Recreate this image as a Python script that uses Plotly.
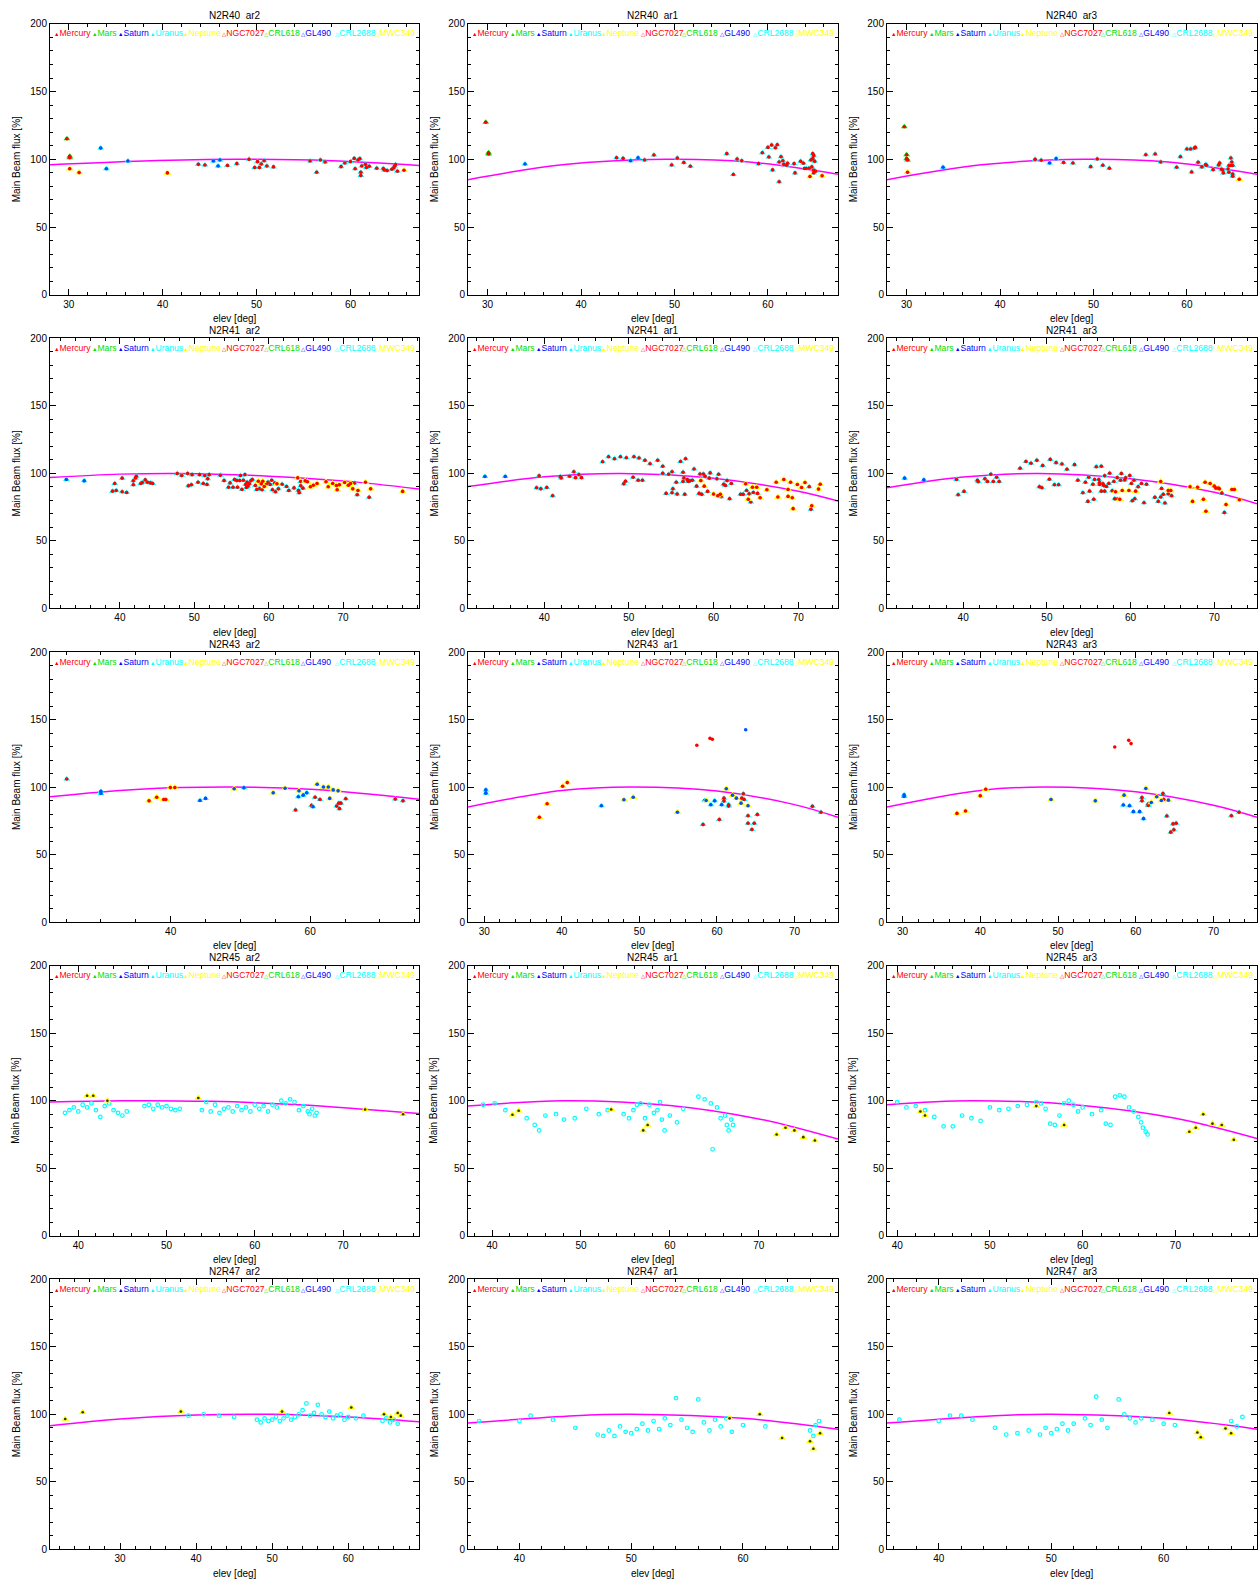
import plotly.graph_objects as go

# ---------------- layout of the page (pixels) ----------------
W, H = 1259, 1592
COL_PX = [(50, 419), (468, 838), (887, 1257)]
ROW_PX = [(18, 291), (335, 607), (651, 923), (967, 1239), (1283, 1555)]

RECEIVERS = ["N2R40", "N2R41", "N2R43", "N2R45", "N2R47"]
ARRAYS = ["ar2", "ar1", "ar3"]

X_RANGES = [
    [(28.0, 67.3), (27.9, 67.5), (27.9, 67.5)],
    [(30.6, 80.2), (31.0, 74.7), (30.9, 75.1)],
    [(22.7, 75.6), (27.9, 75.6), (28.0, 75.6)],
    [(36.8, 78.6), (37.3, 78.9), (38.9, 78.8)],
    [(20.8, 69.3), (35.4, 68.5), (35.4, 68.3)],
]
X_TICKS = [
    [[30, 40, 50, 60], [30, 40, 50, 60], [30, 40, 50, 60]],
    [[40, 50, 60, 70], [40, 50, 60, 70], [40, 50, 60, 70]],
    [[40, 60], [30, 40, 50, 60, 70], [30, 40, 50, 60, 70]],
    [[40, 50, 60, 70], [40, 50, 60, 70], [40, 50, 60, 70]],
    [[30, 40, 50, 60], [40, 50, 60], [40, 50, 60]],
]
X_MINOR = [[2, 2, 2], [2, 2, 2], [5, 2, 2], [2, 2, 2], [2, 2, 2]]

LEGEND_MARKS = ["\u25b2", "\u25b2", "\u25b2", "\u25b2", "\u25b2",
                "\u25b3", "\u25b3", "\u25b3", "\u25b3", "\u25b3"]
LEGEND_NAMES = ["Mercury", "Mars", "Saturn", "Uranus", "Neptune",
                "NGC7027", "CRL618", "GL490", "CRL2688", "MWC349"]
LEGEND_COLORS = ["#ff0000", "#00e000", "#0000ff", "#00ffff", "#ffff00",
                 "#ff0000", "#00e000", "#0000ff", "#00ffff", "#ffff00"]
LEGEND_POS = [0.005, 0.108, 0.179, 0.265, 0.354, 0.461, 0.574, 0.676, 0.766, 0.876]

# ---------------- data: (elev [deg], main beam flux [%], marker kind) ----------------
# kinds: rc red on cyan (default), ry red on yellow, rg red on green, bc blue on cyan,
#        by blue on yellow, r red, b blue, c cyan ring, yk yellow with dark dot
PTS_N2R40_AR2 = [
    (29.8, 115.2, "rg"), (30.1, 102.2, "rg"), (30.1, 101.2, "rg"), (30.1, 93.0, "ry"), (31.1, 90.2, "ry"),
    (33.4, 108.3, "bc"), (34.0, 93.0, "bc"), (36.3, 98.8, "bc"), (40.5, 90.0, "ry"),
    (43.8, 96.3), (44.5, 95.8), (45.4, 98.8, "bc"), (45.9, 95.1, "bc"), (46.1, 99.5, "bc"),
    (46.9, 95.4), (47.9, 96.8), (49.2, 100.0), (49.8, 93.9), (50.1, 98.3), (50.3, 93.9), (50.5, 96.6),
    (50.8, 99.0), (51.1, 95.1), (51.8, 94.4), (55.7, 98.8), (56.4, 90.5), (56.8, 99.5), (57.3, 98.0),
    (59.0, 94.6), (59.4, 97.3), (60.0, 98.3), (60.4, 100.7), (60.5, 93.0), (60.8, 99.5), (61.0, 100.5),
    (61.1, 90.5), (61.1, 88.0), (61.2, 95.1), (61.6, 96.3), (61.7, 93.9), (62.0, 94.9), (62.8, 93.4),
    (63.5, 93.2), (63.6, 92.2), (63.9, 91.7), (64.4, 92.7), (64.6, 93.6), (64.7, 94.9), (64.8, 96.1),
    (65.0, 91.2), (65.7, 91.9, "ry"),
]
PTS_N2R40_AR1 = [
    (29.8, 127.4, "rg"), (30.1, 104.9, "rg"), (30.1, 104.0, "rg"), (34.0, 96.6, "bc"),
    (43.8, 101.2), (44.5, 100.7), (45.3, 99.0, "bc"), (46.1, 101.2, "bc"), (46.8, 99.5), (47.8, 103.2),
    (49.7, 95.8), (50.3, 101.0), (51.0, 97.6), (51.7, 94.9), (55.6, 104.2), (56.3, 88.8), (56.7, 100.2),
    (57.2, 99.0), (59.0, 96.8), (59.4, 104.9), (60.0, 108.8), (60.1, 101.7), (60.4, 110.5), (60.5, 92.2),
    (60.8, 108.6), (61.0, 110.8), (61.2, 83.4), (61.2, 98.0), (61.4, 101.9), (61.6, 99.0), (61.7, 96.3),
    (62.0, 95.6), (62.1, 97.1), (62.8, 96.8), (62.9, 90.0), (63.5, 98.5), (63.8, 97.1), (63.9, 93.2),
    (64.1, 93.2), (64.4, 93.4), (64.5, 87.3, "ry"), (64.6, 99.5), (64.7, 94.4), (64.8, 100.5),
    (64.8, 104.2), (64.9, 90.0), (64.9, 102.7), (64.9, 91.9), (65.0, 98.5), (65.1, 91.2),
    (65.8, 87.8, "ry"),
]
PTS_N2R40_AR3 = [
    (29.75, 124.0, "rg"), (30.0, 103.4, "rg"), (30.0, 100.5, "rg"), (30.1, 99.5, "rg"), (30.1, 90.5, "ry"),
    (33.9, 94.1, "bc"), (43.75, 100.0), (44.4, 99.3), (45.3, 97.3, "bc"), (46.0, 100.5, "bc"),
    (46.8, 97.6), (47.8, 97.3), (49.7, 94.6), (50.4, 100.2), (51.0, 95.6), (51.7, 93.4), (55.6, 103.4),
    (56.6, 103.9), (57.2, 98.0), (58.9, 94.1), (59.3, 101.9), (60.0, 107.6), (60.4, 107.6), (60.5, 90.7),
    (60.8, 108.3), (60.9, 108.8), (61.2, 97.8), (61.6, 94.4), (62.0, 96.1), (62.1, 95.6), (62.8, 92.4),
    (63.4, 95.8), (63.5, 97.3), (63.7, 92.7), (63.8, 92.2), (63.9, 90.0), (64.4, 92.9), (64.5, 95.4),
    (64.5, 90.5), (64.7, 95.4), (64.7, 101.0), (64.8, 98.0), (64.9, 95.4), (64.9, 89.2), (64.9, 87.5),
    (65.6, 85.3, "ry"),
]
PTS_N2R41_AR2 = [
    (32.8, 95.5, "bc"), (35.2, 94.5, "bc"), (39.0, 86.9), (39.3, 92.5), (39.5, 87.4), (40.3, 96.5),
    (40.3, 86.4), (40.9, 85.9), (41.8, 94.5), (41.8, 91.6), (42.1, 96.7), (42.2, 97.9), (42.8, 92.5),
    (43.0, 93.3), (43.4, 95.2), (43.7, 93.5), (44.1, 93.0), (44.4, 92.5), (47.7, 99.9), (48.3, 98.4),
    (49.1, 99.9), (49.2, 90.8), (49.6, 91.6), (49.7, 99.1), (50.5, 93.5), (50.7, 99.1), (51.2, 92.5),
    (51.4, 98.4), (51.7, 91.8), (51.8, 96.0), (52.0, 99.1), (53.5, 98.6), (54.0, 94.7), (54.6, 89.8),
    (54.8, 93.0), (55.2, 89.8), (55.4, 95.5), (55.7, 94.7), (55.8, 89.8), (56.1, 94.7), (56.2, 98.4),
    (56.4, 88.1), (56.6, 95.0), (56.8, 99.1), (56.9, 91.8), (57.0, 89.6), (57.1, 93.5), (57.2, 90.6),
    (57.4, 92.3), (57.6, 94.5), (57.8, 95.5), (58.2, 91.1), (58.4, 88.1), (58.6, 94.2, "ry"),
    (58.8, 88.9), (59.0, 92.3, "ry"), (59.1, 87.9), (59.2, 94.2, "ry"), (59.4, 90.3, "ry"), (59.7, 92.5),
    (59.9, 93.5), (60.2, 91.8), (60.4, 95.0), (60.5, 87.9), (60.8, 92.8), (60.9, 86.4),
    (61.1, 92.3, "ry"), (61.3, 88.6), (61.8, 92.0), (62.4, 90.3), (62.7, 87.4), (63.4, 89.3),
    (63.9, 96.7, "ry"), (64.0, 87.4), (64.1, 85.7), (64.3, 94.0), (64.3, 90.8), (64.6, 89.1),
    (64.9, 94.5, "ry"), (65.2, 93.8, "ry"), (65.6, 90.1, "ry"), (66.0, 91.3, "ry"), (66.5, 92.5, "ry"),
    (67.7, 93.8, "ry"), (68.0, 90.1, "ry"), (68.6, 92.5, "ry"), (69.1, 91.1, "ry"), (69.2, 87.9, "ry"),
    (69.5, 91.6, "ry"), (70.2, 93.3, "ry"), (70.7, 91.3, "ry"), (71.0, 92.5, "ry"), (71.3, 88.6, "ry"),
    (71.5, 92.8), (71.9, 84.2), (72.0, 87.4, "ry"), (73.0, 93.5, "ry"), (73.5, 82.3),
    (73.7, 88.6, "ry"), (78.0, 86.7, "ry"),
]
PTS_N2R41_AR1 = [
    (33.0, 97.7, "bc"), (35.4, 97.7, "bc"), (39.1, 89.4), (39.4, 98.2), (39.6, 88.6), (40.3, 89.6),
    (41.0, 83.5), (41.9, 97.7), (42.0, 96.7), (43.0, 97.9), (43.5, 101.3), (43.7, 96.9), (44.1, 99.1),
    (44.4, 96.9), (46.9, 108.7), (47.6, 112.4), (48.3, 110.9), (49.0, 112.4), (49.4, 92.3), (49.6, 94.2),
    (49.7, 111.6), (50.5, 97.2), (50.6, 112.4), (51.1, 95.0), (51.2, 111.4), (51.6, 95.0), (51.9, 109.7),
    (52.5, 107.2), (53.4, 109.7), (54.0, 105.3), (54.0, 100.1), (54.4, 85.2), (54.7, 99.4), (55.1, 101.3),
    (55.1, 85.7), (55.2, 88.6), (55.6, 93.5), (55.7, 84.7), (56.1, 108.9), (56.4, 94.0), (56.4, 100.9),
    (56.5, 96.7), (56.7, 110.9), (56.6, 84.5), (56.9, 95.5), (57.0, 94.0), (57.2, 94.5), (57.5, 95.0),
    (57.7, 103.3), (58.0, 90.6), (58.3, 85.2), (58.4, 99.6), (58.5, 94.7, "ry"), (58.6, 84.5),
    (58.8, 99.6), (58.9, 90.6, "ry"), (59.0, 97.9), (59.3, 86.7), (59.6, 100.4), (59.5, 96.5),
    (60.0, 84.7, "ry"), (60.4, 96.0), (60.5, 83.5, "ry"), (60.6, 99.4), (60.8, 84.5, "ry"), (60.9, 82.7),
    (61.2, 92.0), (61.4, 91.1), (61.6, 94.7), (61.9, 81.3), (62.1, 92.5), (63.2, 84.5), (63.5, 84.5),
    (63.8, 92.3, "ry"), (63.9, 87.4), (64.1, 80.8, "ry"), (64.2, 84.9), (64.4, 78.8), (64.7, 85.9),
    (64.6, 89.8, "ry"), (65.1, 89.8, "ry"), (65.2, 85.2), (65.5, 82.0, "ry"), (66.3, 87.9, "ry"),
    (67.4, 93.5, "ry"), (67.6, 82.5, "ry"), (68.3, 95.5, "ry"), (68.8, 88.1, "ry"), (68.8, 83.0, "ry"),
    (69.1, 93.5, "ry"), (69.3, 82.0, "ry"), (69.4, 73.9, "ry"), (69.9, 91.8, "ry"), (70.4, 89.6, "ry"),
    (70.8, 93.3, "ry"), (71.3, 90.1), (71.5, 73.4), (71.6, 76.1, "ry"), (72.4, 88.4, "ry"),
    (72.6, 92.0, "ry"),
]
PTS_N2R41_AR3 = [
    (33.0, 96.5, "bc"), (35.3, 95.2, "bc"), (39.2, 95.5), (39.4, 84.2), (40.1, 86.7), (41.7, 95.0),
    (41.8, 93.8), (42.6, 96.0), (42.9, 94.0), (43.3, 99.4), (43.6, 94.0), (44.0, 97.2), (44.3, 94.0),
    (46.8, 103.8), (47.5, 108.9), (48.1, 107.5), (48.8, 109.7), (49.1, 90.1), (49.4, 89.4), (49.5, 105.8),
    (50.3, 95.7), (50.4, 110.4), (50.9, 91.6), (51.1, 108.0), (51.4, 91.6), (51.8, 107.0), (52.4, 103.1),
    (53.3, 106.5), (53.7, 95.0), (54.3, 85.7), (54.6, 93.5), (54.9, 79.3), (55.0, 97.2), (55.1, 86.9),
    (55.5, 92.0), (55.6, 80.8), (55.7, 95.5), (55.9, 105.0), (56.2, 95.5), (56.3, 93.3), (56.3, 91.8),
    (56.5, 86.9), (56.5, 105.3), (56.7, 92.3), (56.8, 91.1), (56.9, 98.2), (56.9, 86.9), (57.1, 90.3),
    (57.4, 92.5), (57.5, 100.1), (57.8, 87.1), (58.0, 94.0), (58.1, 81.3), (58.2, 86.4, "ry"),
    (58.4, 96.9), (58.4, 80.8), (58.7, 80.8, "ry"), (58.8, 95.0), (58.9, 99.9), (59.0, 87.4, "ry"),
    (59.3, 95.2), (59.4, 96.7), (59.8, 87.4, "ry"), (59.9, 98.4), (60.1, 92.5), (60.2, 79.8),
    (60.4, 95.0), (60.5, 81.3), (60.6, 86.9, "ry"), (60.9, 90.1), (61.3, 92.5), (61.6, 78.3),
    (61.9, 92.0), (62.9, 82.3), (63.3, 79.3), (63.6, 94.0, "ry"), (63.6, 82.5), (63.7, 88.9),
    (63.9, 84.5), (64.1, 78.1), (64.5, 87.4, "ry"), (64.5, 84.9), (64.8, 87.4, "ry"), (64.9, 83.5),
    (67.1, 90.1, "ry"), (67.4, 79.3, "ry"), (68.0, 89.8, "ry"), (68.7, 80.8, "ry"), (68.9, 93.5, "ry"),
    (69.0, 72.0, "ry"), (69.5, 92.5, "ry"), (70.0, 90.6, "ry"), (70.2, 89.1, "ry"), (70.5, 89.1, "ry"),
    (70.6, 88.6, "ry"), (70.9, 85.4), (71.2, 71.0), (71.4, 76.9, "ry"), (72.1, 88.1, "ry"),
    (72.4, 88.1, "ry"), (73.0, 80.5, "ry"),
]
PTS_N2R43_AR2 = [
    (25.1, 106.0), (30.0, 96.8, "bc"), (30.0, 95.2, "bc"), (36.9, 89.8, "ry"), (38.0, 92.5, "ry"),
    (39.0, 90.8, "ry"), (39.3, 90.8, "ry"), (39.95, 99.6, "ry"), (40.6, 99.6, "ry"), (44.2, 90.1, "bc"),
    (45.0, 91.6, "bc"), (49.1, 98.7, "by"), (50.5, 99.4, "bc"), (54.7, 95.7, "by"), (56.4, 99.1, "by"),
    (57.9, 83.0), (58.3, 92.8, "bc"), (58.4, 97.2, "by"), (59.0, 94.0, "bc"), (59.5, 95.7, "bc"),
    (60.2, 86.4), (60.4, 85.4, "bc"), (60.7, 92.5), (61.0, 102.1, "by"), (61.4, 90.8),
    (61.9, 100.1, "by"), (62.6, 100.1, "by"), (62.8, 91.6, "by"), (63.3, 97.9, "by"), (63.8, 85.9),
    (64.0, 97.2, "by"), (64.1, 88.1), (64.2, 84.0), (64.4, 88.1), (65.1, 91.3), (72.2, 91.1),
    (73.3, 89.8),
]
PTS_N2R43_AR1 = [
    (30.2, 97.9, "bc"), (30.2, 95.5, "bc"), (37.1, 77.6, "ry"), (38.1, 87.6, "ry"), (40.1, 100.6, "ry"),
    (40.7, 103.3, "ry"), (45.1, 86.2, "bc"), (48.0, 90.6, "by"), (49.2, 92.5, "by"), (54.9, 81.3, "by"),
    (57.4, 131.0, "r"), (58.2, 72.2), (58.4, 90.1, "bc"), (58.6, 90.1, "by"), (59.1, 136.1, "r"),
    (59.4, 135.4, "r"), (59.2, 86.9, "bc"), (59.7, 89.8, "bc"), (60.3, 75.9), (60.6, 86.9, "bc"),
    (60.9, 91.8), (60.9, 89.6), (61.2, 98.7, "by"), (61.5, 86.9), (61.5, 85.9), (62.0, 94.0, "by"),
    (62.5, 91.8, "by"), (63.7, 142.5, "b"), (63.1, 88.1, "by"), (63.2, 91.8), (63.4, 95.0), (63.5, 90.8),
    (64.0, 86.2, "by"), (64.0, 78.8), (64.0, 73.2), (64.5, 68.5), (64.8, 73.2), (65.2, 79.6),
    (72.3, 85.7), (73.4, 81.3),
]
PTS_N2R43_AR3 = [
    (30.2, 94.2, "bc"), (30.2, 93.0, "bc"), (37.0, 80.5, "ry"), (38.1, 82.3, "ry"), (40.0, 93.5, "ry"),
    (40.7, 98.4, "ry"), (49.1, 90.8, "by"), (54.8, 89.8, "by"), (57.3, 129.7, "r"), (58.4, 86.7, "bc"),
    (58.5, 94.0, "by"), (59.1, 134.6, "r"), (59.4, 132.2, "r"), (59.2, 86.2, "bc"), (59.7, 81.8, "bc"),
    (60.5, 81.8, "bc"), (60.8, 92.3), (60.8, 89.8), (61.0, 76.6, "bc"), (61.3, 98.9, "by"), (61.6, 86.4),
    (61.6, 87.4), (62.0, 88.6, "by"), (62.7, 92.8, "by"), (63.3, 90.1, "by"), (63.5, 95.2), (63.6, 90.8),
    (64.2, 90.3, "by"), (64.0, 78.6), (64.5, 66.6), (64.8, 72.7), (64.9, 68.3), (65.2, 73.2),
    (72.3, 78.8), (73.3, 81.3),
]
PTS_N2R45_AR2 = [
    (41.0, 103.7, "yk"), (41.7, 103.7, "yk"), (43.3, 100.0, "yk"), (53.6, 102.0, "yk"), (72.5, 93.5, "yk"),
    (76.8, 90.0, "yk"),
    (38.5, 91, "c"), (39.0, 93, "c"), (39.5, 95, "c"), (40.0, 92, "c"), (40.5, 97, "c"), (41.0, 95, "c"),
    (41.5, 98, "c"), (42.0, 93, "c"), (42.5, 88, "c"), (43.0, 96, "c"), (43.5, 98, "c"), (44.0, 93, "c"),
    (44.5, 91, "c"), (45.0, 89, "c"), (45.5, 92, "c"), (47.5, 96, "c"), (48.0, 97, "c"), (48.5, 94, "c"),
    (49.0, 97, "c"), (49.5, 95, "c"), (50.0, 96, "c"), (50.5, 94, "c"), (51.0, 93, "c"), (51.5, 94, "c"),
    (54.0, 93, "c"), (54.5, 99, "c"), (55.0, 92, "c"), (55.5, 97, "c"), (56.0, 91, "c"), (56.5, 94, "c"),
    (57.0, 95, "c"), (57.5, 92, "c"), (58.0, 96, "c"), (58.5, 93, "c"), (59.0, 95, "c"), (59.5, 92, "c"),
    (60.0, 97, "c"), (60.5, 94, "c"), (61.0, 96, "c"), (61.5, 92, "c"), (62.0, 97, "c"), (62.5, 95, "c"),
    (63.0, 100, "c"), (63.5, 98, "c"), (64.0, 101, "c"), (64.5, 99, "c"), (65.0, 93, "c"), (65.5, 96, "c"),
    (66.0, 92, "c"), (66.2, 90, "c"), (66.5, 94, "c"), (66.8, 89, "c"), (67.0, 91, "c"),
]
PTS_N2R45_AR1 = [
    (42.3, 89.6, "yk"), (43.0, 92.5, "yk"), (53.4, 93.5, "yk"), (57.0, 78.0, "yk"), (57.5, 82.0, "yk"),
    (72.0, 75.0, "yk"), (73.0, 80.0, "yk"), (74.0, 78.0, "yk"), (75.0, 73.0, "yk"), (76.3, 70.5, "yk"),
    (39.0, 97, "c"), (40.3, 98, "c"), (41.5, 93, "c"), (43.9, 87, "c"), (44.8, 82, "c"), (45.3, 78, "c"),
    (46.0, 89, "c"), (47.2, 90, "c"), (48.1, 86, "c"), (49.3, 87, "c"), (50.6, 94, "c"), (52.0, 90, "c"),
    (53.0, 93, "c"), (54.8, 90, "c"), (55.4, 87, "c"), (55.9, 93, "c"), (56.3, 97, "c"), (56.7, 98, "c"),
    (57.2, 87, "c"), (57.7, 97, "c"), (58.2, 91, "c"), (58.6, 93, "c"), (58.9, 99, "c"), (59.1, 86, "c"),
    (59.4, 78, "c"), (60.0, 89, "c"), (60.8, 84, "c"), (61.5, 94, "c"), (63.2, 103, "c"), (63.9, 101, "c"),
    (64.6, 98, "c"), (64.8, 64, "c"), (65.3, 95, "c"), (65.7, 87, "c"), (66.2, 89, "c"), (66.4, 82, "c"),
    (66.6, 78, "c"), (66.9, 86, "c"), (67.1, 82, "c"),
]
PTS_N2R45_AR3 = [
    (42.5, 92, "yk"), (43.0, 89, "yk"), (55.0, 96, "yk"), (58.0, 82, "yk"), (71.5, 77, "yk"),
    (72.2, 80, "yk"), (73.0, 90, "yk"), (74.0, 83, "yk"), (75.0, 82, "yk"), (76.3, 71, "yk"),
    (40.0, 99, "c"), (41.0, 95, "c"), (42.0, 96, "c"), (43.0, 93, "c"), (44.0, 88, "c"), (45.0, 81, "c"),
    (46.0, 81, "c"), (47.0, 89, "c"), (48.0, 87, "c"), (49.0, 85, "c"), (50.0, 95, "c"), (51.0, 93, "c"),
    (52.0, 94, "c"), (53.0, 96, "c"), (54.0, 97, "c"), (55.0, 99, "c"), (55.5, 98, "c"), (56.0, 94, "c"),
    (56.5, 83, "c"), (57.0, 82, "c"), (57.5, 89, "c"), (58.0, 98, "c"), (58.5, 100, "c"), (59.0, 97, "c"),
    (59.5, 92, "c"), (60.0, 95, "c"), (61.0, 90, "c"), (62.0, 93, "c"), (62.5, 83, "c"), (63.0, 82, "c"),
    (63.5, 103, "c"), (64.0, 104, "c"), (64.5, 103, "c"), (65.0, 95, "c"), (65.5, 92, "c"), (66.0, 88, "c"),
    (66.3, 84, "c"), (66.5, 80, "c"), (66.8, 77, "c"), (67.0, 75, "c"),
]
PTS_N2R47_AR2 = [
    (22.8, 96.5, "yk"), (25.1, 101.5, "yk"), (38.0, 102, "yk"), (51.3, 102, "yk"), (60.4, 105, "yk"),
    (64.7, 100, "yk"), (65.6, 98, "yk"), (66.5, 101, "yk"), (66.9, 99, "yk"),
    (39.0, 99, "c"), (41.0, 100, "c"), (43.0, 99, "c"), (45.0, 98, "c"), (48.0, 96, "c"), (48.5, 94, "c"),
    (49.0, 97, "c"), (49.5, 95, "c"), (50.0, 96, "c"), (50.5, 98, "c"), (51.0, 95, "c"), (51.5, 97, "c"),
    (52.0, 99, "c"), (52.5, 96, "c"), (53.0, 98, "c"), (53.5, 100, "c"), (54.0, 103, "c"), (54.5, 108, "c"),
    (55.0, 99, "c"), (55.5, 101, "c"), (56.0, 107, "c"), (56.5, 100, "c"), (57.0, 98, "c"), (57.5, 102, "c"),
    (58.0, 97, "c"), (58.5, 99, "c"), (59.0, 100, "c"), (59.5, 96, "c"), (60.0, 98, "c"), (61.0, 97, "c"),
    (62.0, 99, "c"), (64.5, 95, "c"), (65.0, 97, "c"), (65.5, 94, "c"), (66.0, 96, "c"), (66.5, 93, "c"),
]
PTS_N2R47_AR1 = [
    (58.8, 97, "yk"), (61.5, 100, "yk"), (63.5, 82.5, "yk"), (66.0, 80, "yk"), (66.3, 74.5, "yk"),
    (66.9, 86, "yk"),
    (36.4, 95, "c"), (40.0, 95, "c"), (41.0, 99, "c"), (43.0, 96, "c"), (45.0, 90, "c"), (47.0, 85, "c"),
    (47.5, 84, "c"), (48.0, 88, "c"), (48.5, 84, "c"), (49.0, 91, "c"), (49.5, 87, "c"), (50.0, 86, "c"),
    (50.5, 89, "c"), (51.0, 93, "c"), (51.5, 88, "c"), (52.0, 95, "c"), (52.5, 89, "c"), (53.0, 97, "c"),
    (53.5, 92, "c"), (54.0, 112, "c"), (54.5, 96, "c"), (55.0, 90, "c"), (55.5, 87, "c"), (56.0, 111, "c"),
    (56.5, 94, "c"), (57.0, 88, "c"), (57.5, 96, "c"), (58.0, 91, "c"), (58.5, 97, "c"), (59.0, 87, "c"),
    (60.0, 92, "c"), (62.0, 91, "c"), (66.0, 88, "c"), (66.3, 84, "c"), (66.5, 92, "c"), (66.8, 95, "c"),
]
PTS_N2R47_AR3 = [
    (60.5, 101, "yk"), (63.0, 86.5, "yk"), (63.3, 83, "yk"), (65.5, 89.5, "yk"), (66.0, 86, "yk"),
    (36.5, 96, "c"), (40.0, 95, "c"), (41.0, 99, "c"), (42.0, 99, "c"), (43.0, 96, "c"), (45.0, 90, "c"),
    (46.0, 85, "c"), (47.0, 86, "c"), (48.0, 88, "c"), (49.0, 85, "c"), (49.5, 90, "c"), (50.0, 86, "c"),
    (50.5, 89, "c"), (51.0, 93, "c"), (51.5, 88, "c"), (52.0, 93, "c"), (53.0, 97, "c"), (53.5, 92, "c"),
    (54.0, 113, "c"), (54.5, 96, "c"), (55.0, 90, "c"), (56.0, 111, "c"), (56.5, 100, "c"), (57.0, 97, "c"),
    (57.5, 94, "c"), (58.0, 97, "c"), (59.0, 96, "c"), (60.0, 93, "c"), (61.0, 92, "c"), (66.0, 95, "c"),
    (66.5, 91, "c"), (67.0, 98, "c"),
]

# gain-elevation curves (elev, %)
CURVE_N2R40_AR2 = [(28.0, 96.0), (38.0, 98.8), (48.0, 100.0), (58.0, 99.0), (67.3, 95.5)]
CURVE_N2R40_AR1 = [(27.9, 85.0), (38.0, 96.0), (49.0, 100.0), (58.0, 98.0), (67.5, 89.0)]
CURVE_N2R40_AR3 = [(27.9, 85.0), (38.0, 96.0), (49.0, 100.0), (58.0, 98.0), (67.5, 89.0)]
CURVE_N2R41_AR2 = [(30.6, 97.0), (40.0, 99.5), (48.0, 100.0), (60.0, 98.0), (70.0, 94.5), (80.2, 88.5)]
CURVE_N2R41_AR1 = [(31.0, 90.3), (40.0, 97.5), (49.0, 100.0), (60.0, 96.4), (70.0, 86.8), (74.7, 79.5)]
CURVE_N2R41_AR3 = [(30.9, 89.4), (40.0, 97.3), (49.0, 100.0), (60.0, 96.0), (70.0, 86.0), (75.1, 77.6)]
CURVE_N2R43_AR2 = [(22.7, 92.8), (35.0, 98.2), (48.0, 100.0), (60.0, 98.3), (75.6, 91.0)]
CURVE_N2R43_AR1 = [(27.9, 85.2), (40.0, 97.4), (49.0, 100.0), (60.0, 97.0), (70.0, 87.0), (75.6, 77.6)]
CURVE_N2R43_AR3 = [(28.0, 85.2), (40.0, 97.5), (48.5, 100.0), (60.0, 96.5), (70.0, 86.5), (75.6, 77.6)]
CURVE_N2R45_AR2 = [(36.8, 99.0), (45.0, 100.0), (55.0, 99.5), (65.0, 97.0), (78.6, 90.5)]
CURVE_N2R45_AR1 = [(37.3, 96.0), (48.0, 100.0), (60.0, 96.5), (70.0, 86.5), (78.9, 71.5)]
CURVE_N2R45_AR3 = [(38.9, 97.0), (48.0, 100.0), (60.0, 96.5), (70.0, 87.0), (78.8, 72.0)]
CURVE_N2R47_AR2 = [(20.8, 91.5), (30.0, 96.5), (40.0, 99.5), (50.0, 100.0), (60.0, 98.0), (69.3, 94.5)]
CURVE_N2R47_AR1 = [(35.4, 93.5), (45.0, 99.0), (50.0, 100.0), (60.0, 97.0), (68.5, 89.0)]
CURVE_N2R47_AR3 = [(35.4, 93.5), (45.0, 99.0), (50.0, 100.0), (60.0, 97.0), (68.3, 89.0)]

PANEL_POINTS = [
    [PTS_N2R40_AR2, PTS_N2R40_AR1, PTS_N2R40_AR3],
    [PTS_N2R41_AR2, PTS_N2R41_AR1, PTS_N2R41_AR3],
    [PTS_N2R43_AR2, PTS_N2R43_AR1, PTS_N2R43_AR3],
    [PTS_N2R45_AR2, PTS_N2R45_AR1, PTS_N2R45_AR3],
    [PTS_N2R47_AR2, PTS_N2R47_AR1, PTS_N2R47_AR3],
]
PANEL_CURVES = [
    [CURVE_N2R40_AR2, CURVE_N2R40_AR1, CURVE_N2R40_AR3],
    [CURVE_N2R41_AR2, CURVE_N2R41_AR1, CURVE_N2R41_AR3],
    [CURVE_N2R43_AR2, CURVE_N2R43_AR1, CURVE_N2R43_AR3],
    [CURVE_N2R45_AR2, CURVE_N2R45_AR1, CURVE_N2R45_AR3],
    [CURVE_N2R47_AR2, CURVE_N2R47_AR1, CURVE_N2R47_AR3],
]

# ---------------- marker styles ----------------
RED, GREEN, BLUE, CYAN, YELLOW = "#ff0000", "#00e000", "#0050ff", "#00ffff", "#ffff00"
TRI = dict(symbol="triangle-up", size=6)
DOT = dict(symbol="circle", size=3.6)
KIND_LAYERS = {
    "rc": [dict(TRI, color=CYAN), dict(DOT, color=RED)],
    "ry": [dict(TRI, color=YELLOW, size=7), dict(DOT, color=RED)],
    "rg": [dict(TRI, color=GREEN), dict(DOT, color=RED)],
    "bc": [dict(TRI, color=CYAN), dict(DOT, color=BLUE)],
    "by": [dict(TRI, color=YELLOW, size=7), dict(DOT, color=BLUE)],
    "r": [dict(DOT, color=RED)],
    "b": [dict(DOT, color=BLUE)],
    "c": [dict(symbol="circle-open", size=3.6, color=CYAN, line=dict(width=1.2, color=CYAN))],
    "yk": [dict(TRI, color=YELLOW, size=7), dict(symbol="circle", size=2.6, color="#333300")],
}
KIND_ORDER = ["c", "rc", "bc", "rg", "ry", "by", "yk", "r", "b"]

FONT = "Liberation Sans, Arial, DejaVu Sans, sans-serif"

fig = go.Figure()
annotations = []
layout = {}

for r in range(5):
    top, bot = ROW_PX[r]
    for c in range(3):
        left, right = COL_PX[c]
        i = r * 3 + c + 1
        sfx = "" if i == 1 else str(i)
        xref, yref = "x" + sfx, "y" + sfx

        # magenta gain curve
        cx = [p[0] for p in PANEL_CURVES[r][c]]
        cy = [p[1] for p in PANEL_CURVES[r][c]]
        fig.add_trace(go.Scatter(x=cx, y=cy, mode="lines", xaxis=xref, yaxis=yref,
                                 line=dict(color="#ff00ff", width=1.5, shape="spline", smoothing=1.0),
                                 showlegend=False, hoverinfo="skip"))

        pts = PANEL_POINTS[r][c]
        for kind in KIND_ORDER:
            sel = [p for p in pts if (p[2] if len(p) > 2 else "rc") == kind]
            if not sel:
                continue
            xs = [p[0] for p in sel]
            ys = [p[1] for p in sel]
            for mk in KIND_LAYERS[kind]:
                mk = dict(mk)
                if "line" not in mk:
                    mk["line"] = dict(width=0)
                fig.add_trace(go.Scatter(x=xs, y=ys, mode="markers", xaxis=xref, yaxis=yref,
                                         marker=mk, showlegend=False, hoverinfo="skip"))

        xr = X_RANGES[r][c]
        layout["xaxis" + sfx] = dict(
            domain=[left / W, right / W], range=list(xr), anchor=yref,
            showline=True, linecolor="black", linewidth=1, mirror="ticks",
            ticks="inside", ticklen=6, tickwidth=1, tickcolor="black",
            tickmode="array", tickvals=X_TICKS[r][c], ticktext=[str(v) for v in X_TICKS[r][c]],
            minor=dict(dtick=X_MINOR[r][c], tick0=0, ticks="inside", ticklen=3, tickcolor="black", showgrid=False),
            showgrid=False, zeroline=False,
            tickfont=dict(family=FONT, size=10, color="black"),
        )
        layout["yaxis" + sfx] = dict(
            domain=[1 - bot / H, 1 - top / H], range=[0, 200], anchor=xref,
            showline=True, linecolor="black", linewidth=1, mirror="ticks",
            ticks="inside", ticklen=6, tickwidth=1, tickcolor="black",
            tick0=0, dtick=50,
            minor=dict(dtick=10, tick0=0, ticks="inside", ticklen=3, tickcolor="black", showgrid=False),
            showgrid=False, zeroline=False,
            tickfont=dict(family=FONT, size=10, color="black"),
        )

        # panel title
        annotations.append(dict(text=f"{RECEIVERS[r]}&nbsp;&nbsp;{ARRAYS[c]}", xref="paper", yref="paper",
                                x=(left + right) / 2 / W, y=1 - (top - 8) / H,
                                xanchor="center", yanchor="middle", showarrow=False,
                                font=dict(family=FONT, size=10, color="black")))
        # x axis label
        annotations.append(dict(text="elev [deg]", xref="paper", yref="paper",
                                x=(left + right) / 2 / W, y=1 - (bot + 24) / H,
                                xanchor="center", yanchor="middle", showarrow=False,
                                font=dict(family=FONT, size=10, color="black")))
        # y axis label
        annotations.append(dict(text="Main Beam flux [%]", xref="paper", yref="paper",
                                x=(left - 34) / W, y=1 - (top + bot) / 2 / H, textangle=-90,
                                xanchor="center", yanchor="middle", showarrow=False,
                                font=dict(family=FONT, size=10, color="black")))
        # source key inside the plot
        for mark, name, col, pos in zip(LEGEND_MARKS, LEGEND_NAMES, LEGEND_COLORS, LEGEND_POS):
            annotations.append(dict(text=f"<span style='font-size:5.5px'>{mark}</span>{name}",
                                    xref=xref + " domain", yref=yref, x=pos, y=193,
                                    xanchor="left", yanchor="middle", showarrow=False,
                                    font=dict(family=FONT, size=8.6, color=col)))

fig.update_layout(
    width=W, height=H, margin=dict(l=0, r=0, t=0, b=0),
    paper_bgcolor="white", plot_bgcolor="white",
    showlegend=False, annotations=annotations, **layout,
)

fig.write_html("out.html", config={"displayModeBar": False},
               post_script="document.body.style.margin='0';document.body.style.overflow='hidden';")
